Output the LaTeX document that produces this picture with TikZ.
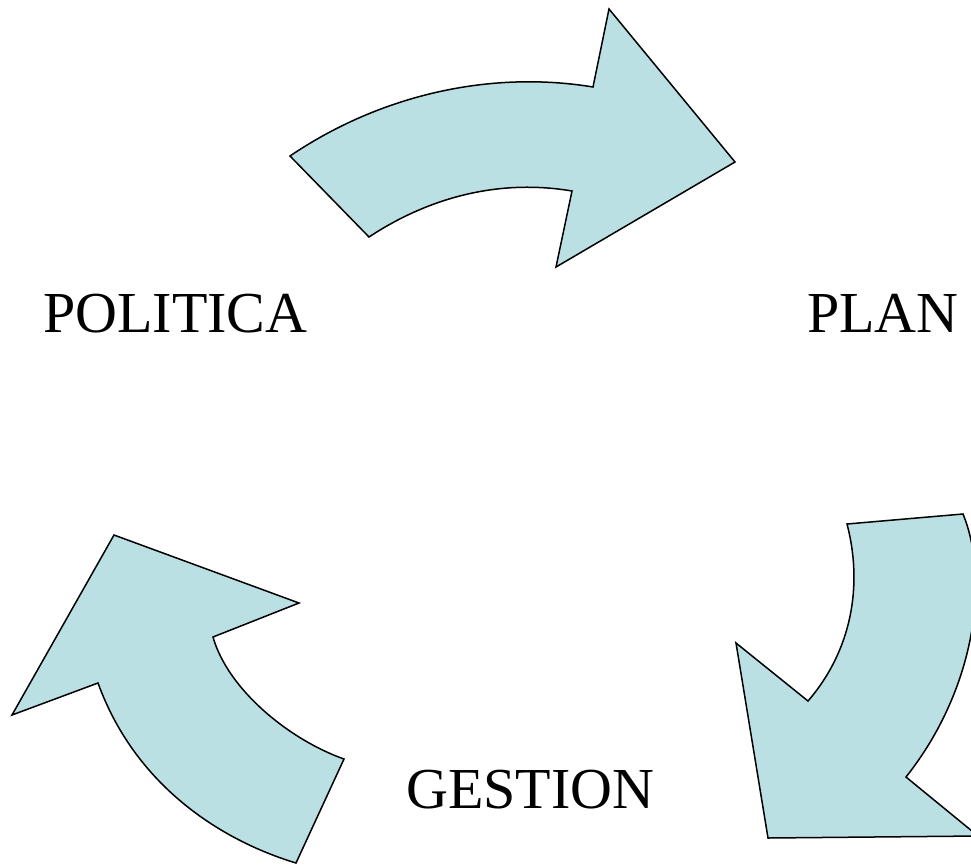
\documentclass[tikz,border=0pt]{standalone}
\usepackage{fontspec}
\setmainfont{Liberation Serif}
\definecolor{arrowfill}{RGB}{187,224,227}
\begin{document}
\begin{tikzpicture}[x=1pt,y=-1pt,
  carrow/.style={fill=arrowfill,draw=black,line width=1.5pt,line join=miter},
  lbl/.style={inner sep=0pt,anchor=base west,font=\fontsize{58}{60}\selectfont}]
\useasboundingbox (0,0) rectangle (971,865);
% top arrow
\draw[carrow] (290,156) .. controls (380,95) and (490,70) .. (593,87)
  -- (609,9) -- (735,162) -- (556,267) -- (572,191)
  .. controls (495,178) and (425,200) .. (369,237) -- cycle;
% right arrow
\draw[carrow] (847,524) -- (963,514) .. controls (990,580) and (975,690) .. (906,777)
  -- (978,836) -- (768,838) -- (736,643) -- (808,701)
  .. controls (852,650) and (863,585) .. (847,524) -- cycle;
% left arrow
\draw[carrow] (114,535) -- (299,603) -- (213,637)
  .. controls (228,690) and (290,740) .. (344,759) -- (296,863)
  .. controls (220,840) and (135,785) .. (98,683) -- (12,715) -- cycle;
\node[lbl] (politica) at (43,332) {POLITICA};
\node[lbl] (plan) at (807,332) {PLAN};
\node[lbl] (gestion) at (406,808) {GESTION};
\end{tikzpicture}
\end{document}
